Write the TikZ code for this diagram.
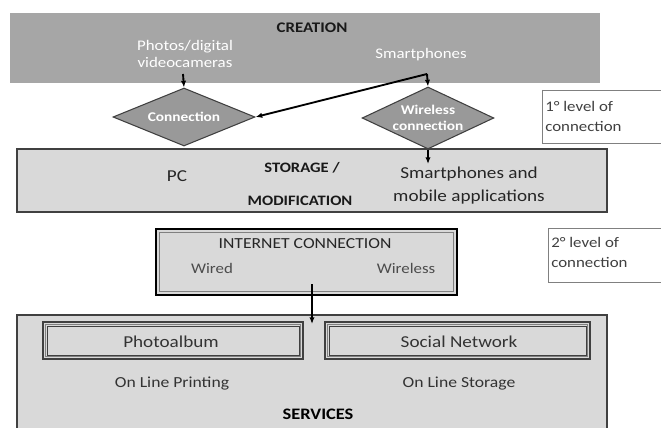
\documentclass[tikz,border=0pt]{standalone}
\usepackage{fontspec}
\setmainfont{Carlito}[FakeStretch=1.15]
\usetikzlibrary{shapes.geometric,arrows.meta}
\definecolor{darkband}{HTML}{A6A6A6}
\definecolor{lightband}{HTML}{D9D9D9}
\definecolor{diamondfill}{HTML}{999999}
\definecolor{edgegray}{HTML}{404040}
\tikzset{
  x=0.75pt, y=-0.75pt,
  txt/.style={font=\fontsize{11}{13}\selectfont, inner sep=0pt, align=center},
  bigtxt/.style={txt, font=\fontsize{12.5}{17.25}\selectfont, text=black!85},
  headtxt/.style={txt, font=\bfseries\fontsize{10.8}{12}\selectfont, text=black!90},
  wtxt/.style={txt, text=white, font=\fontsize{11}{12.75}\selectfont},
  decision/.style={diamond, aspect=2.4, fill=diamondfill, draw=edgegray, line width=0.8pt,
    minimum width=142*0.75pt, minimum height=58*0.75pt, inner sep=0pt,
    font=\bfseries\fontsize{10}{12}\selectfont, text=white, align=center},
  panel/.style={fill=lightband, draw=edgegray, line width=1.2pt},
  note/.style={fill=white, draw=gray, line width=0.6pt},
  notetxt/.style={txt, align=left, anchor=west, text=black!75},
  arr/.style={-{Latex[length=5pt,width=4pt]}, line width=1.4pt, black},
}
\begin{document}
\begin{tikzpicture}
\useasboundingbox (0,0) rectangle (661,428);

% creation band
\fill[darkband] (10,13) rectangle (600,83);
\node[headtxt, font=\bfseries\fontsize{11}{13}\selectfont] (creation) at (312,28) {CREATION};
\node[wtxt] (photos) at (185,54) {Photos/digital\\videocameras};
\node[wtxt] (smart) at (421,55) {Smartphones};

% decisions
\node[decision] (conn) at (184,117) {Connection};
\node[decision, minimum width=127*0.75pt, minimum height=62*0.75pt] (wl) at (428,118) {Wireless\\connection};

% storage band
\draw[panel] (17,149) rectangle (607,212);
\node[bigtxt] (pc) at (177,176) {PC};
\node[headtxt] (stor) at (302,168) {STORAGE /};
\node[headtxt] (modif) at (300,201) {MODIFICATION};
\node[bigtxt] (mob) at (469,186) {Smartphones and\\mobile applications};

% level notes
\draw[note] (542,90) -- (664,90) (542,90) -- (542,143) -- (664,143);
\node[notetxt] (lev1) at (545,116) {1° level of\\[2pt]connection};
\draw[note] (548,228) -- (664,228) (548,228) -- (548,282) -- (664,282);
\node[notetxt] (lev2) at (551,252) {2° level of\\[2pt]connection};

% internet connection box
\draw[fill=lightband, draw=black, line width=2pt] (156,229) rectangle (457,295);
\draw[draw=gray, line width=1pt] (159.5,232.5) rectangle (453.5,291.5);
\node[txt, font=\fontsize{11.5}{13}\selectfont, text=black!85] (inet) at (305,244) {INTERNET CONNECTION};
\node[txt, text=black!70] (wired) at (212,268) {Wired};
\node[txt, text=black!70] (wless) at (406,268) {Wireless};

% services band
\draw[panel] (17,315) rectangle (607,432);
\foreach \a/\b in {43/303, 325/590}{
  \draw[draw=edgegray, fill=lightband, line width=1.6pt] (\a,322) rectangle (\b,359);
  \draw[draw=gray, line width=1.2pt] (\a+2.5,324.5) rectangle (\b-2.5,356.5);
  \draw[draw=edgegray, line width=0.6pt] (\a+4,326) rectangle (\b-4,355);
}
\node[txt, font=\fontsize{12.5}{14}\selectfont, text=black!80] (album) at (171,342) {Photoalbum};
\node[txt, font=\fontsize{12.5}{14}\selectfont, text=black!80] (social) at (459,342) {Social Network};
\node[txt, font=\fontsize{11.5}{13}\selectfont, text=black!80] (print) at (172,384) {On Line Printing};
\node[txt, font=\fontsize{11.5}{13}\selectfont, text=black!80] (ostore) at (459,384) {On Line Storage};
\node[txt, font=\bfseries\fontsize{12}{14}\selectfont] (serv) at (318,414) {SERVICES};

% connectors
\coordinate (photosout) at (183,74);
\coordinate (smartout) at (427,74);
\coordinate (mobin) at (428,164);
\coordinate (inetout) at (312,284);
\coordinate (servin) at (312,324);
\draw[arr] (photosout) -- (conn.north);
\draw[arr] (smartout) -- (wl.north);
\draw[arr] (smartout) -- (conn.east);
\draw[arr] (wl.south) -- (mobin);
\draw[arr] (inetout) -- (servin);
\end{tikzpicture}
\end{document}
